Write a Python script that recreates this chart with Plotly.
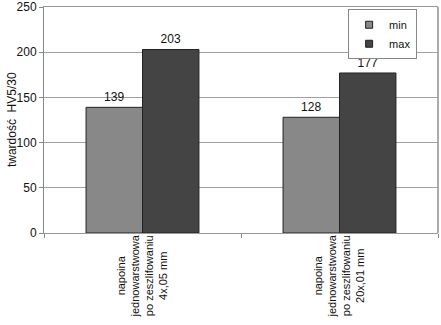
import plotly.graph_objects as go

categories = ["napoina<br>jednowarstwowa<br>po zeszlifowaniu<br>4x,05 mm",
              "napoina<br>jednowarstwowa<br>po zeszlifowaniu<br>20x,01 mm"]
cat_keys = ["c1", "c2"]
series_names = ["min", "max"]
min_vals = [139, 128]
max_vals = [203, 177]
y_ticks = [0, 50, 100, 150, 200, 250]
y_title = "twardość  HV5/30"

FONT = "Liberation Sans, Arial, sans-serif"
COLORS = ["#888888", "#444444"]

fig = go.Figure()
for name, vals, col in zip(series_names, [min_vals, max_vals], COLORS):
    fig.add_trace(go.Bar(x=cat_keys, y=vals, name=name, showlegend=False,
                         marker=dict(color=col, line=dict(color="#222222", width=1)),
                         text=vals, textposition="outside", cliponaxis=False,
                         textfont=dict(size=12, color="#111111", family=FONT)))
# legend entries (small square swatches)
for name, col in zip(series_names, COLORS):
    fig.add_trace(go.Scatter(x=[None], y=[None], mode="markers", name=name,
                             marker=dict(symbol="square", size=7, color=col,
                                         line=dict(color="#222222", width=1))))

for k, lab in zip(cat_keys, categories):
    fig.add_annotation(x=k, xref="x", y=-0.19, yref="paper", text=lab,
                       textangle=-90, showarrow=False, align="center",
                       xanchor="center", yanchor="middle",
                       font=dict(size=11, color="#111111", family=FONT))

# y-axis title
fig.add_annotation(x=-0.081, xref="paper", y=0.5, yref="paper", text=y_title,
                   textangle=-90, showarrow=False, xanchor="center", yanchor="middle",
                   font=dict(size=12, color="#111111", family=FONT))

fig.add_shape(type="line", xref="paper", yref="paper", x0=1, x1=1, y0=0, y1=1,
              line=dict(color="#aaaaaa", width=2))

fig.update_layout(
    width=441, height=325,
    margin=dict(l=44, r=3, t=7, b=92, autoexpand=False),
    paper_bgcolor="white", plot_bgcolor="white",
    barmode="group", bargap=0.427, bargroupgap=0,
    font=dict(family=FONT, size=12, color="#111111"),
    showlegend=True,
    legend=dict(x=0.947, y=0.99, xanchor="right", yanchor="top",
                bordercolor="#888888", borderwidth=1, bgcolor="white",
                font=dict(size=11, family=FONT, color="#111111"),
                itemwidth=30, tracegroupgap=0),
    xaxis=dict(showticklabels=False, tickson="boundaries", ticks="outside",
               ticklen=4, tickcolor="#888888", showline=True, linecolor="#999999",
               linewidth=1, mirror=True, showgrid=False, automargin=False),
    yaxis=dict(range=[0, 250], tickvals=y_ticks, ticks="outside", ticklen=4,
               tickcolor="#888888", showline=True, linecolor="#888888",
               gridcolor="#a0a0a0", gridwidth=1, zeroline=False, automargin=False,
               ticklabeloverflow="allow",
               tickfont=dict(size=12, family=FONT, color="#111111")),
)

fig.write_html("out.html")
